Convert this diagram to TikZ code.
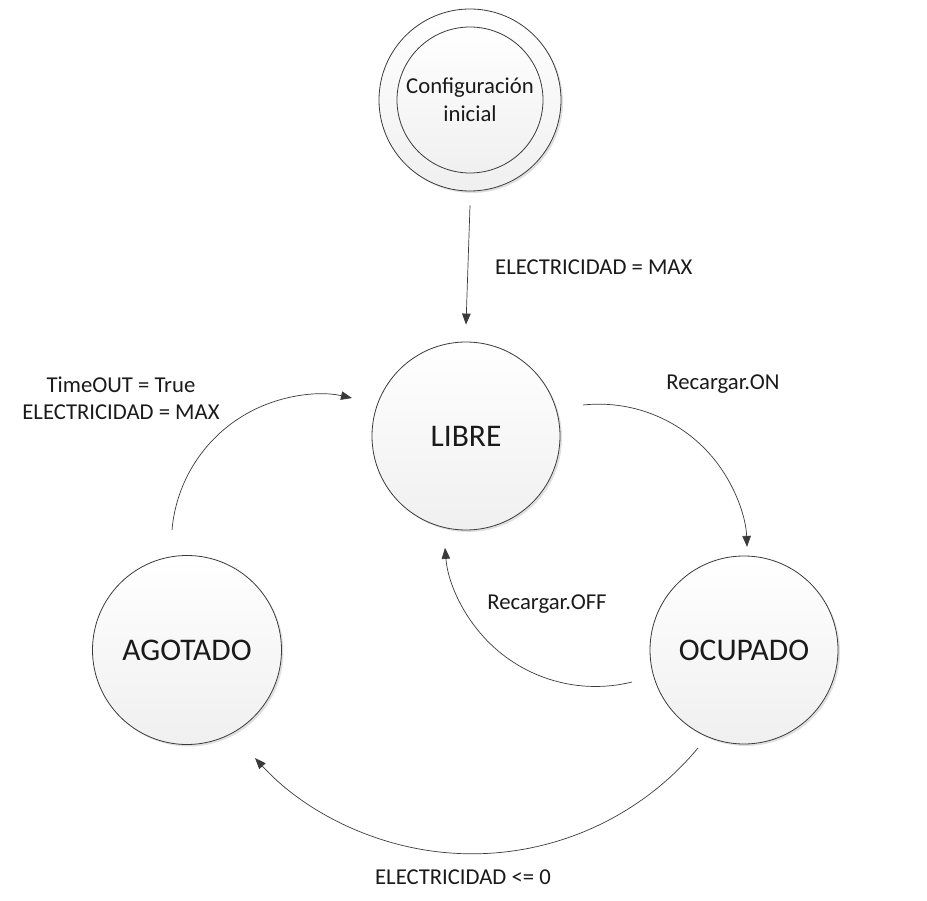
\documentclass[tikz,border=0pt]{standalone}
\usepackage{fontspec}
\setmainfont{Carlito}
\usetikzlibrary{arrows.meta,shadows,calc}
\definecolor{linec}{HTML}{3A3A3A}
\definecolor{textc}{HTML}{1A1A1A}
\begin{document}
\begin{tikzpicture}[x=1pt,y=-1pt,
  state/.style={circle,draw=linec,line width=0.8pt,inner sep=0pt,
    top color=white,bottom color=black!6,text=textc,
    drop shadow={shadow xshift=2pt,shadow yshift=-2pt,fill=black,opacity=0.12},
    font=\fontsize{31.5}{36}\selectfont},
  lbl/.style={text=textc,inner sep=0pt,font=\fontsize{22.7}{27}\selectfont,align=center},
  arr/.style={draw=linec,line width=0.7pt,-{Triangle[length=11pt,width=8.5pt,fill=linec]}}]
\useasboundingbox (0,0) rectangle (927,901);
% states
\node[state,minimum size=182pt] (init) at (470,100) {};
\node[circle,draw=linec,line width=0.8pt,inner sep=0pt,top color=white,bottom color=black!6,text=textc,
  minimum size=146pt,font=\fontsize{22.7}{28}\selectfont,align=center] (initin) at (470,100) {Configuración\\inicial};
\node[state,minimum size=188pt] (libre) at (466,436) {LIBRE};
\node[state,minimum size=188pt] (ocupado) at (744,650) {OCUPADO};
\node[state,minimum size=189pt] (agotado) at (187,650) {AGOTADO};
% connectors
\draw[arr] ([yshift=-14pt]init.south) -- ([yshift=17pt]libre.north);
\draw[arr] ($(libre)+(117,-31)$) arc[start angle=-96.1,end angle=-2.2,radius=148.4];
\draw[arr] ($(ocupado)+(-112,32)$) arc[start angle=76,end angle=175.3,radius=151];
\draw[arr] ($(ocupado)+(-46,98)$) arc[start angle=39.8,end angle=137.6,radius=294];
\draw[arr] ($(agotado)+(-15,-120)$) arc[start angle=-175.1,end angle=-77.4,radius=148.2];
% labels
\node[lbl,anchor=west] (l1) at (495,267) {ELECTRICIDAD = MAX};
\node[lbl] (l2) at (723,384) {Recargar.ON};
\node[lbl] (l3) at (547,604) {Recargar.OFF};
\node[lbl] (l4) at (463,877) {ELECTRICIDAD <= 0};
\node[lbl] (l5) at (121,398) {TimeOUT = True\\ELECTRICIDAD = MAX};
\end{tikzpicture}
\end{document}
